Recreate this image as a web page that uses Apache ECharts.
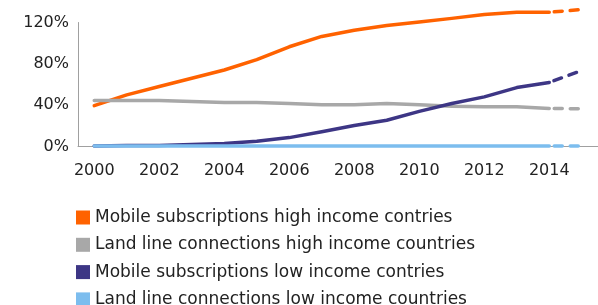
<!DOCTYPE html>
<html><head><meta charset="utf-8">
<script src="https://cdn.jsdelivr.net/npm/echarts@6/dist/echarts.min.js"></script>
<style>html,body{margin:0;padding:0;background:#fff}#c{width:598px;height:305px}</style>
</head><body><div id="c"></div>
<script>
const years = ['2000','2001','2002','2003','2004','2005','2006','2007','2008','2009','2010','2011','2012','2013','2014','2015'];
const mobileHigh = [39.5, 50, 58, 66, 74, 84, 96.5, 106.5, 112.5, 117, 120.5, 124, 127.7, 130, 130];
const landHigh = [44.5, 44.5, 44.5, 43.5, 42.5, 42.5, 41.5, 40.5, 40.5, 41.5, 40.5, 39, 38.5, 38.5, 36.8];
const mobileLow = [0.5, 1, 1, 2, 3, 5, 8.6, 14.2, 20.3, 25.4, 34, 41.6, 48, 57, 62];
const landLow = [0.5, 0.5, 0.5, 0.5, 0.5, 0.5, 0.5, 0.5, 0.5, 0.5, 0.5, 0.5, 0.5, 0.5, 0.5];
const forecast2015 = {mobileHigh: 132.5, landHigh: 36.5, mobileLow: 73.5, landLow: 0.5};
const names = ['Mobile subscriptions high income contries','Land line connections high income countries','Mobile subscriptions low income contries','Land line connections low income countries'];
const colors = ['#FF6200','#A8A8A8','#3D3685','#7CBDEE'];

function dashed(arr, f){
  const d = years.map(()=>null);
  d[14] = arr[14]; d[15] = f; return d;
}
const solidSets = [mobileHigh, landHigh, mobileLow, landLow];
const fc = [forecast2015.mobileHigh, forecast2015.landHigh, forecast2015.mobileLow, forecast2015.landLow];
const series = [];
for (let i = 3; i >= 0; i--) {
  series.push({name: names[i], type:'line', data: solidSets[i], symbol:'none', smooth:false, clip:false,
    lineStyle:{color:colors[i], width:3.5, cap:'round', join:'round'}, itemStyle:{color:colors[i]}, z: 3+i});
  series.push({name: names[i]+' f', type:'line', data: dashed(solidSets[i], fc[i]), symbol:'none', clip:false,
    lineStyle:{color:colors[i], width:3.5, type:[8,8], dashOffset:11, cap:'round'}, itemStyle:{color:colors[i]}, z: 3+i});
}
const chart = echarts.init(document.getElementById('c'), null, {renderer:'canvas'});
chart.setOption({
  animation:false,
  textStyle:{fontFamily:'DejaVu Sans'},
  grid:{left:78, top:22.5, width:534, height:124},
  xAxis:{type:'category', data:years, boundaryGap:true,
    axisLine:{lineStyle:{color:'#A0A0A0', width:1}}, axisTick:{show:false},
    axisLabel:{interval:1, color:'#222', fontSize:16, margin:16, fontFamily:'DejaVu Sans'}},
  yAxis:{type:'value', min:0, max:120, interval:40,
    axisLine:{show:true, lineStyle:{color:'#A0A0A0', width:1}}, axisTick:{show:false},
    splitLine:{show:false},
    axisLabel:{formatter:'{value}%', color:'#222', fontSize:16, margin:9, fontFamily:'DejaVu Sans'}},
  legend:{orient:'vertical', left:71, top:204, height:200, icon:'rect', itemWidth:14, itemHeight:14, itemGap:10.3,
    data:names, textStyle:{fontSize:17, color:'#222', fontFamily:'DejaVu Sans'}},
  series: series
});
</script></body></html>
